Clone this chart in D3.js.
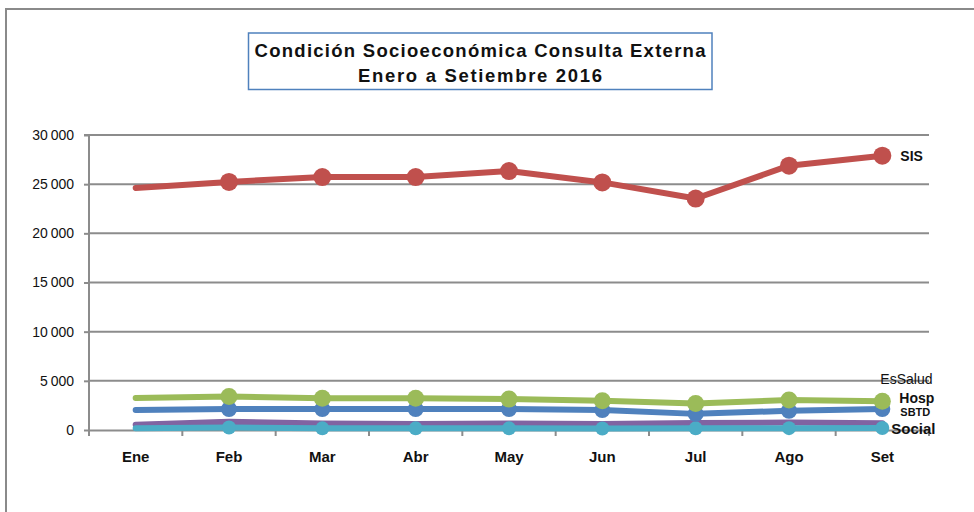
<!DOCTYPE html>
<html><head><meta charset="utf-8">
<script src="https://cdn.jsdelivr.net/npm/d3@7"></script>
<style>body{margin:0;background:#fff}svg{display:block}</style>
</head><body>
<svg id="c" width="974" height="512"></svg>
<script>
const months = ["Ene","Feb","Mar","Abr","May","Jun","Jul","Ago","Set"];
const sis    = [24620, 25230, 25720, 25720, 26330, 25180, 23540, 26880, 27900];
const hosp   = [3250, 3400, 3240, 3230, 3140, 2970, 2700, 3040, 2920];
const sbtd   = [2030, 2130, 2130, 2130, 2130, 2030, 1640, 1960, 2130];
const essal  = [540, 830, 650, 620, 660, 600, 700, 760, 680];
const social = [170, 260, 170, 170, 170, 150, 170, 190, 200];
const yTicks = [0, 5000, 10000, 15000, 20000, 25000, 30000];
const titleLines = ["Condición Socioeconómica Consulta Externa", "Enero a Setiembre 2016"];

const svg = d3.select("#c");
const L = 89, R = 929, T = 135, B = 430;
const FF = "Liberation Sans, Arial, sans-serif";
const x = d3.scaleBand().domain(months).range([L, R]);
const y = d3.scaleLinear().domain([0, 30000]).range([B, T]);
const fmt = v => v === 0 ? "0" : d3.format(",")(v).replace(/,/g, "\u2009");

// outer frame
svg.append("path").attr("d", "M6,520 V9 H980").attr("fill","none").attr("stroke","#8a8a8a").attr("stroke-width",2);

// title box
svg.append("rect").attr("x",248.5).attr("y",33).attr("width",463.5).attr("height",56.5)
  .attr("fill","#fff").attr("stroke","#4f81bd").attr("stroke-width",1.5);
const tl = [451, 244];
svg.append("g").selectAll("text").data(titleLines).join("text")
  .attr("x",480).attr("y",(d,i)=>57+i*25).attr("text-anchor","middle")
  .attr("font-family",FF).attr("font-weight","bold").attr("font-size",18.5)
  .attr("textLength",(d,i)=>tl[i]).attr("lengthAdjust","spacing")
  .attr("fill","#111").text(d=>d);

// gridlines
svg.append("g").selectAll("line").data(yTicks.filter(v=>v>0)).join("line")
  .attr("x1",L).attr("x2",R).attr("y1",d=>y(d)).attr("y2",d=>y(d))
  .attr("stroke","#8c8c8c").attr("stroke-width",2);

// y axis
const ya = svg.append("g").attr("transform",`translate(${L},0)`)
  .call(d3.axisLeft(y).tickValues(yTicks).tickFormat(fmt).tickSize(5).tickPadding(10));
ya.select(".domain").attr("stroke","#8c8c8c").attr("stroke-width",2).attr("d",`M-5,${T}H0V${B+6}`);
ya.selectAll(".tick line").attr("stroke","#8c8c8c").attr("stroke-width",2);
ya.selectAll("text").attr("font-family",FF).attr("font-size",14).attr("fill","#111");

// x axis
const xa = svg.append("g").attr("transform",`translate(0,${B})`)
  .call(d3.axisBottom(x).tickSize(0).tickPadding(21));
xa.select(".domain").attr("stroke","#8c8c8c").attr("stroke-width",2);
xa.selectAll("text").attr("font-family",FF).attr("font-size",15)
  .attr("font-weight","bold").attr("fill","#111");
xa.selectAll(".bt").data(months.map(m=>x(m)+x.bandwidth())).join("line")
  .attr("x1",d=>d).attr("x2",d=>d).attr("y1",0).attr("y2",6)
  .attr("stroke","#8c8c8c").attr("stroke-width",2);

const series = [
  {name:"EsSalud", vals:essal,  color:"#8064a2", r:0,   lbl:{dx:-2, dy:-39, size:14, w:"normal"}},
  {name:"Social",  vals:social, color:"#4bacc6", r:7,   lbl:{dx:9,  dy:6,   size:15, w:"bold"}},
  {name:"SBTD",    vals:sbtd,   color:"#4f81bd", r:8,   lbl:{dx:18, dy:7,   size:11, w:"bold"}},
  {name:"Hosp",    vals:hosp,   color:"#9bbb59", r:8.5, lbl:{dx:17, dy:2,   size:14, w:"bold"}},
  {name:"SIS",     vals:sis,    color:"#c0504d", r:9,   lbl:{dx:18, dy:5,   size:14, w:"bold"}}
];
const cx = m => x(m) + x.bandwidth()/2;
const line = d3.line().x((d,i)=>cx(months[i])).y(d=>y(d));
series.forEach(s=>{
  const g = svg.append("g");
  g.append("path").datum(s.vals).attr("d",line).attr("fill","none")
    .attr("stroke",s.color).attr("stroke-width",6).attr("stroke-linejoin","round").attr("stroke-linecap","round");
  if (s.r>0) g.selectAll("circle").data(s.vals.slice(1)).join("circle")
    .attr("cx",(d,i)=>cx(months[i+1])).attr("cy",d=>y(d)).attr("r",s.r).attr("fill",s.color);
  const last = s.vals[s.vals.length-1];
  g.append("text").attr("x",cx(months[8])+s.lbl.dx).attr("y",y(last)+s.lbl.dy)
    .attr("font-family",FF).attr("font-size",s.lbl.size)
    .attr("font-weight",s.lbl.w).attr("fill","#111").text(s.name);
});
</script>
</body></html>
